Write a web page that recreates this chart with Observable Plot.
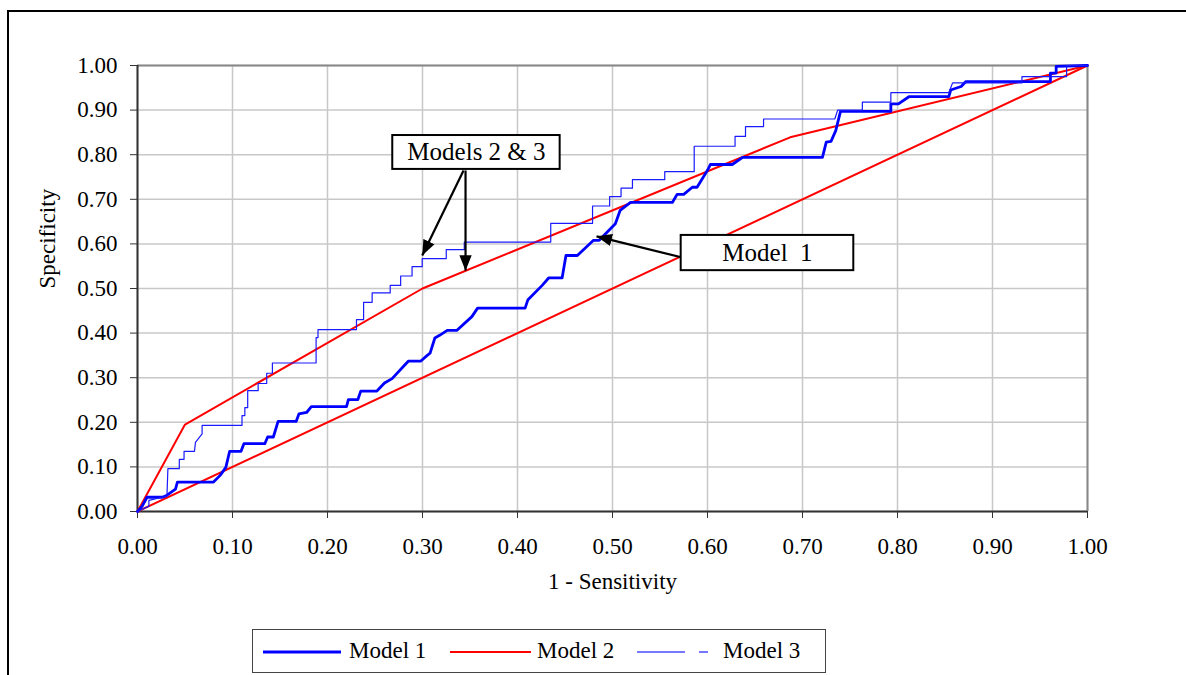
<!DOCTYPE html>
<html><head><meta charset="utf-8">
<script src="https://cdn.jsdelivr.net/npm/d3@7"></script>
<script src="https://cdn.jsdelivr.net/npm/@observablehq/plot@0.6"></script>
<style>
body{margin:0;background:#fff;}
#wrap{position:relative;width:1186px;height:675px;overflow:hidden;font-family:"Liberation Serif","Times New Roman",serif;}
#frame{position:absolute;left:7px;top:10px;right:-5px;bottom:-5px;border-left:2px solid #000;border-top:2px solid #000;}
#chart{position:absolute;left:0;top:0;}
#legend{position:absolute;left:252px;top:629px;width:574px;height:44px;border:1px solid #444;box-sizing:border-box;background:#fff;}
.li{position:absolute;top:0;height:42px;display:flex;align-items:center;font-size:23px;color:#000;}
</style></head><body>
<div id="wrap"><div id="frame"></div><div id="chart"></div><div id="legend"></div></div>
<script>
// Tick values
const xTicks = [0,0.1,0.2,0.3,0.4,0.5,0.6,0.7,0.8,0.9,1.0];
const yTicks = [0,0.1,0.2,0.3,0.4,0.5,0.6,0.7,0.8,0.9,1.0];

// Series names
const seriesNames = ["Model 1","Model 2","Model 3"];

// Model 1 ROC vertices (1 - Sensitivity, Specificity)
const model1X = [0,0.005,0.01,0.026,0.03,0.04,0.042,0.08,0.087,0.093,0.097,0.109,0.112,0.134,0.137,0.143,0.148,0.167,0.17,0.178,0.183,0.22,0.222,0.232,0.235,0.252,0.26,0.268,0.285,0.298,0.305,0.308,0.313,0.318,0.326,0.336,0.352,0.358,0.408,0.411,0.426,0.433,0.447,0.451,0.463,0.48,0.486,0.503,0.508,0.519,0.563,0.568,0.575,0.584,0.589,0.6,0.603,0.626,0.637,0.721,0.725,0.73,0.735,0.74,0.793,0.793,0.801,0.812,0.854,0.856,0.867,0.872,0.961,0.961,0.967,0.967,1];
const model1Y = [0,0.012,0.032,0.032,0.035,0.05,0.066,0.066,0.081,0.099,0.135,0.135,0.152,0.152,0.167,0.167,0.202,0.202,0.219,0.222,0.235,0.235,0.251,0.251,0.27,0.27,0.288,0.298,0.337,0.337,0.35,0.355,0.389,0.395,0.406,0.406,0.437,0.456,0.456,0.475,0.507,0.524,0.524,0.574,0.574,0.608,0.608,0.645,0.675,0.693,0.693,0.711,0.711,0.727,0.727,0.765,0.778,0.778,0.794,0.794,0.828,0.83,0.854,0.897,0.897,0.914,0.914,0.93,0.93,0.945,0.953,0.964,0.964,0.983,0.983,0.998,1];

// Model 2 ROC vertices
const model2X = [0,0.05,0.30,0.687,1];
const model2Y = [0,0.195,0.50,0.839,1];

// Chance diagonal
const diagX = [0,1];
const diagY = [0,1];

// Model 3 ROC vertices
const model3X = [0,0.012,0.012,0.026,0.031,0.032,0.044,0.044,0.049,0.049,0.06,0.061,0.068,0.068,0.11,0.11,0.113,0.113,0.116,0.116,0.127,0.127,0.136,0.136,0.142,0.142,0.188,0.188,0.19,0.19,0.2305,0.2305,0.238,0.238,0.247,0.247,0.266,0.266,0.277,0.277,0.289,0.289,0.2997,0.2997,0.325,0.325,0.344,0.344,0.435,0.435,0.479,0.479,0.497,0.497,0.509,0.509,0.521,0.521,0.555,0.555,0.586,0.586,0.629,0.629,0.64,0.64,0.659,0.659,0.734,0.737,0.763,0.763,0.793,0.793,0.854,0.856,0.858,0.931,0.931,0.978,0.978,1];
const model3Y = [0,0.012,0.025,0.032,0.035,0.096,0.096,0.117,0.117,0.135,0.135,0.155,0.174,0.193,0.193,0.215,0.215,0.233,0.233,0.271,0.271,0.287,0.287,0.31,0.31,0.333,0.333,0.39,0.39,0.408,0.408,0.43,0.43,0.469,0.469,0.49,0.49,0.507,0.507,0.528,0.528,0.549,0.549,0.567,0.567,0.587,0.587,0.604,0.604,0.646,0.646,0.685,0.685,0.706,0.706,0.725,0.725,0.744,0.744,0.762,0.762,0.819,0.819,0.841,0.841,0.863,0.863,0.88,0.88,0.90,0.90,0.918,0.918,0.939,0.939,0.95,0.961,0.961,0.975,0.975,1.0,1];

// Annotations
const annoLabels = ["Models 2 & 3","Model  1"];
const annoBoxX1 = [0.2687,0.5723];
const annoBoxX2 = [0.4449,0.754];
const annoBoxY1 = [0.767,0.540];
const annoBoxY2 = [0.843,0.619];
const arrowX1 = [0.3432,0.3453,0.5723];
const arrowY1 = [0.7646,0.7646,0.570];
const arrowX2 = [0.2997,0.3453,0.4832];
const arrowY2 = [0.574,0.540,0.617];

const toPts = (xs, ys) => xs.map((x,i)=>({x, y: ys[i]}));
const m1 = toPts(model1X, model1Y);
const m2 = toPts(model2X, model2Y);
const m3 = toPts(model3X, model3Y);
const diag = toPts(diagX, diagY);
const boxes = annoLabels.map((label,i)=>({label, x1:annoBoxX1[i], x2:annoBoxX2[i], y1:annoBoxY1[i], y2:annoBoxY2[i]}));
const arrows = arrowX1.map((x1,i)=>({x1, y1:arrowY1[i], x2:arrowX2[i], y2:arrowY2[i]}));
const fmt = d3.format(".2f");
const FONT = "Liberation Serif, Times New Roman, serif";

// Filled triangular arrowhead marker
const filledHead = (color) => {
  const m = d3.create("svg:marker")
    .attr("viewBox", "-10 -5 10 10")
    .attr("markerWidth", 7)
    .attr("markerHeight", 7)
    .attr("markerUnits", "strokeWidth")
    .attr("orient", "auto");
  m.append("path").attr("d", "M-10,-4L0,0L-10,4Z").attr("fill", color).attr("stroke", "none");
  return m.node();
};

function build(useCustom) {
  const arrowMark = useCustom
    ? Plot.link(arrows, {x1: "x1", y1: "y1", x2: "x2", y2: "y2", stroke: "#000", strokeWidth: 2.2, markerEnd: filledHead})
    : Plot.arrow(arrows, {x1: "x1", y1: "y1", x2: "x2", y2: "y2", stroke: "#000", strokeWidth: 2.2, headLength: 12, headAngle: 40});
  return Plot.plot({
    width: 1186, height: 620,
    marginLeft: 137, marginRight: 99, marginTop: 65, marginBottom: 109,
    style: {fontFamily: FONT, fontSize: "23px", background: "transparent", color: "#000"},
    x: {domain: [0,1]},
    y: {domain: [0,1]},
    marks: [
      Plot.gridX(xTicks, {stroke: "#c8c8c8", strokeOpacity: 1, strokeWidth: 1.5}),
      Plot.gridY(yTicks, {stroke: "#c8c8c8", strokeOpacity: 1, strokeWidth: 1.5}),
      Plot.ruleY([1], {stroke: "#888", strokeWidth: 2}),
      Plot.ruleX([1], {stroke: "#888", strokeWidth: 2}),
      Plot.axisX(xTicks, {tickSize: 7, tickPadding: 19, tickFormat: fmt, stroke: "#333", label: null, fontSize: 23}),
      Plot.axisY(yTicks, {tickSize: 7, tickPadding: 13, tickFormat: fmt, stroke: "#333", label: null, fontSize: 23}),
      Plot.ruleX([0], {stroke: "#333", strokeWidth: 2}),
      Plot.ruleY([0], {stroke: "#333", strokeWidth: 2}),
      Plot.line(diag, {x: "x", y: "y", stroke: "#ff0000", strokeWidth: 2}),
      Plot.line(m2, {x: "x", y: "y", stroke: "#ff0000", strokeWidth: 2}),
      Plot.line(m1, {x: "x", y: "y", stroke: "#0000ff", strokeWidth: 2.8}),
      Plot.line(m3, {x: "x", y: "y", stroke: "#1a1aff", strokeWidth: 1.2}),
      Plot.text(["Specificity"], {frameAnchor: "left", dx: -90, rotate: -90, fontSize: 23, fill: "#000"}),
      Plot.text(["1 - Sensitivity"], {frameAnchor: "bottom", dy: 77, fontSize: 23, fill: "#000"}),
      arrowMark,
      Plot.rect(boxes, {x1: "x1", x2: "x2", y1: "y1", y2: "y2", fill: "#fff", stroke: "#000", strokeWidth: 2}),
      Plot.text(boxes, {x: d => (d.x1 + d.x2) / 2, y: d => (d.y1 + d.y2) / 2, text: "label", fontSize: 25, fill: "#000"})
    ]
  });
}
let plot;
try { plot = build(true); } catch (e) { plot = build(false); }
document.getElementById("chart").appendChild(plot);

// Legend
const legendStyles = [
  {stroke: "#0000ff", width: 2.8, dash: null, left: 10, len: 78, textLeft: 96},
  {stroke: "#ff0000", width: 2, dash: null, left: 197, len: 81, textLeft: 284},
  {stroke: "#4a4aff", width: 1.4, dash: "48,14,9", left: 384, len: 72, textLeft: 470}
];
const leg = document.getElementById("legend");
seriesNames.forEach((name, i) => {
  const s = legendStyles[i];
  const sw = document.createElementNS("http://www.w3.org/2000/svg", "svg");
  sw.setAttribute("width", s.len); sw.setAttribute("height", 42);
  sw.style.position = "absolute"; sw.style.left = s.left + "px"; sw.style.top = "0px";
  const ln = document.createElementNS("http://www.w3.org/2000/svg", "line");
  ln.setAttribute("x1", 0); ln.setAttribute("x2", s.len); ln.setAttribute("y1", 22); ln.setAttribute("y2", 22);
  ln.setAttribute("stroke", s.stroke); ln.setAttribute("stroke-width", s.width);
  if (s.dash) ln.setAttribute("stroke-dasharray", s.dash);
  sw.appendChild(ln); leg.appendChild(sw);
  const t = document.createElement("div");
  t.className = "li"; t.style.left = s.textLeft + "px"; t.textContent = name;
  leg.appendChild(t);
});
</script>
</body></html>
